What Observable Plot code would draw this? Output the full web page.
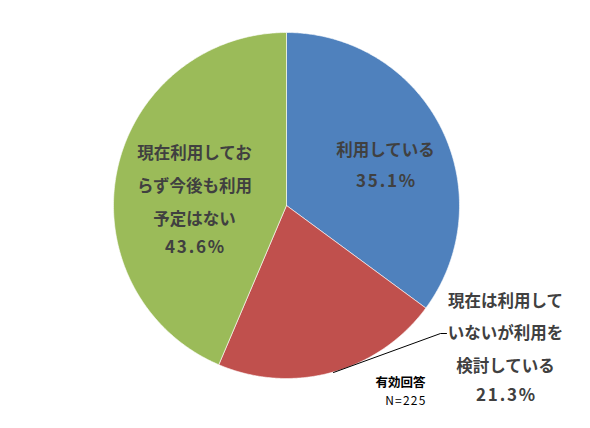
<!DOCTYPE html>
<html><head><meta charset="utf-8">
<script src="https://cdn.jsdelivr.net/npm/d3@7"></script>
<script src="https://cdn.jsdelivr.net/npm/@observablehq/plot@0.6"></script>
<style>
html,body{margin:0;padding:0;background:#fff;}
#chart svg{display:block;}
</style>
</head><body><div id="chart"></div>
<script>
// Data
const categories = ["利用している", "現在は利用していないが利用を検討している", "現在利用しておらず今後も利用予定はない"];
const labelTexts = ["利用している", "現在は利用して\nいないが利用を\n検討している", "現在利用してお\nらず今後も利用\n予定はない"];
const values = [35.1, 21.3, 43.6];
const colors = ["#4F81BD", "#C0504D", "#9BBB59"];
const noteTitle = "有効回答";
const noteN = "N=225";

// Layout (unit circle coordinates)
const cx = 286, cy = 205, R = 173, W = 590, H = 428;
const toX = px => (px - cx) / R;
const toY = py => (cy - py) / R;
const labelPos = [
  {x: toX(385), y: toY(145), px: toX(386), py: toY(181), lh: 2},
  {x: toX(505), y: toY(328.5), px: toX(506), py: toY(395), lh: 1.98},
  {x: toX(194), y: toY(180.5), px: toX(195), py: toY(247), lh: 2.0}
];

// Build slice polygons from values
const total = d3.sum(values);
const slices = [];
let acc = 0;
values.forEach((v, i) => {
  const a0 = acc / total * 2 * Math.PI;
  acc += v;
  const a1 = acc / total * 2 * Math.PI;
  const n = 240;
  slices.push({i, x: 0, y: 0});
  for (let k = 0; k <= n; k++) {
    const a = a0 + (a1 - a0) * k / n;
    slices.push({i, x: Math.sin(a), y: Math.cos(a)});
  }
  slices.push({i, x: 0, y: 0});
});

const labels = values.map((v, i) => ({
  text: labelTexts[i], pct: v.toFixed(1) + "%",
  x: labelPos[i].x, y: labelPos[i].y, px: labelPos[i].px, py: labelPos[i].py, lh: labelPos[i].lh
}));

const leader = [
  {x: toX(333), y: toY(372)},
  {x: toX(440), y: toY(333)},
  {x: toX(446), y: toY(333)}
];

const font = "'Noto Sans CJK JP', 'Noto Sans', sans-serif";

const marks = [
  ...[0,1,2].map(i => Plot.line(slices.filter(d => d.i === i), {
    x: "x", y: "y", fill: colors[i], stroke: "#ffffff", strokeWidth: 0.6, curve: "linear"
  })),
  Plot.line(leader, {x: "x", y: "y", stroke: "#000000", strokeWidth: 1}),
  ...labels.map(l => Plot.text([l], {
    x: "x", y: "y", text: "text", fontSize: 16.5, fontWeight: "bold", fill: "#404040",
    lineHeight: l.lh, textAnchor: "middle", lineAnchor: "middle", fontFamily: font
  })),
  Plot.text(labels, {
    x: "px", y: "py", text: "pct", fontSize: 17, fontWeight: "bold", fill: "#404040",
    textAnchor: "middle", fontFamily: font
  }),
  Plot.text([{x: toX(425), y: toY(382), t: noteTitle}], {
    x: "x", y: "y", text: "t", fontSize: 12.5, fontWeight: "bold", fill: "#000",
    textAnchor: "end", fontFamily: font
  }),
  Plot.text([{x: toX(426), y: toY(400.5), t: noteN}], {
    x: "x", y: "y", text: "t", fontSize: 12, fill: "#000",
    textAnchor: "end", fontFamily: font
  })
];

const chart = Plot.plot({
  width: W, height: H,
  marginTop: 0, marginRight: 0, marginBottom: 0, marginLeft: 0,
  x: {domain: [toX(0), toX(W)], axis: null},
  y: {domain: [toY(H), toY(0)], axis: null},
  style: {background: "#fff", fontFamily: font},
  marks
});
d3.select(chart).selectAll("text")
  .filter(function() { return this.textContent.includes("%"); })
  .style("letter-spacing", "1.8px");
d3.select(chart).selectAll("text")
  .filter(function() { return this.textContent === noteN; })
  .style("letter-spacing", "1.2px");
document.getElementById("chart").appendChild(chart);
</script>
</body></html>
